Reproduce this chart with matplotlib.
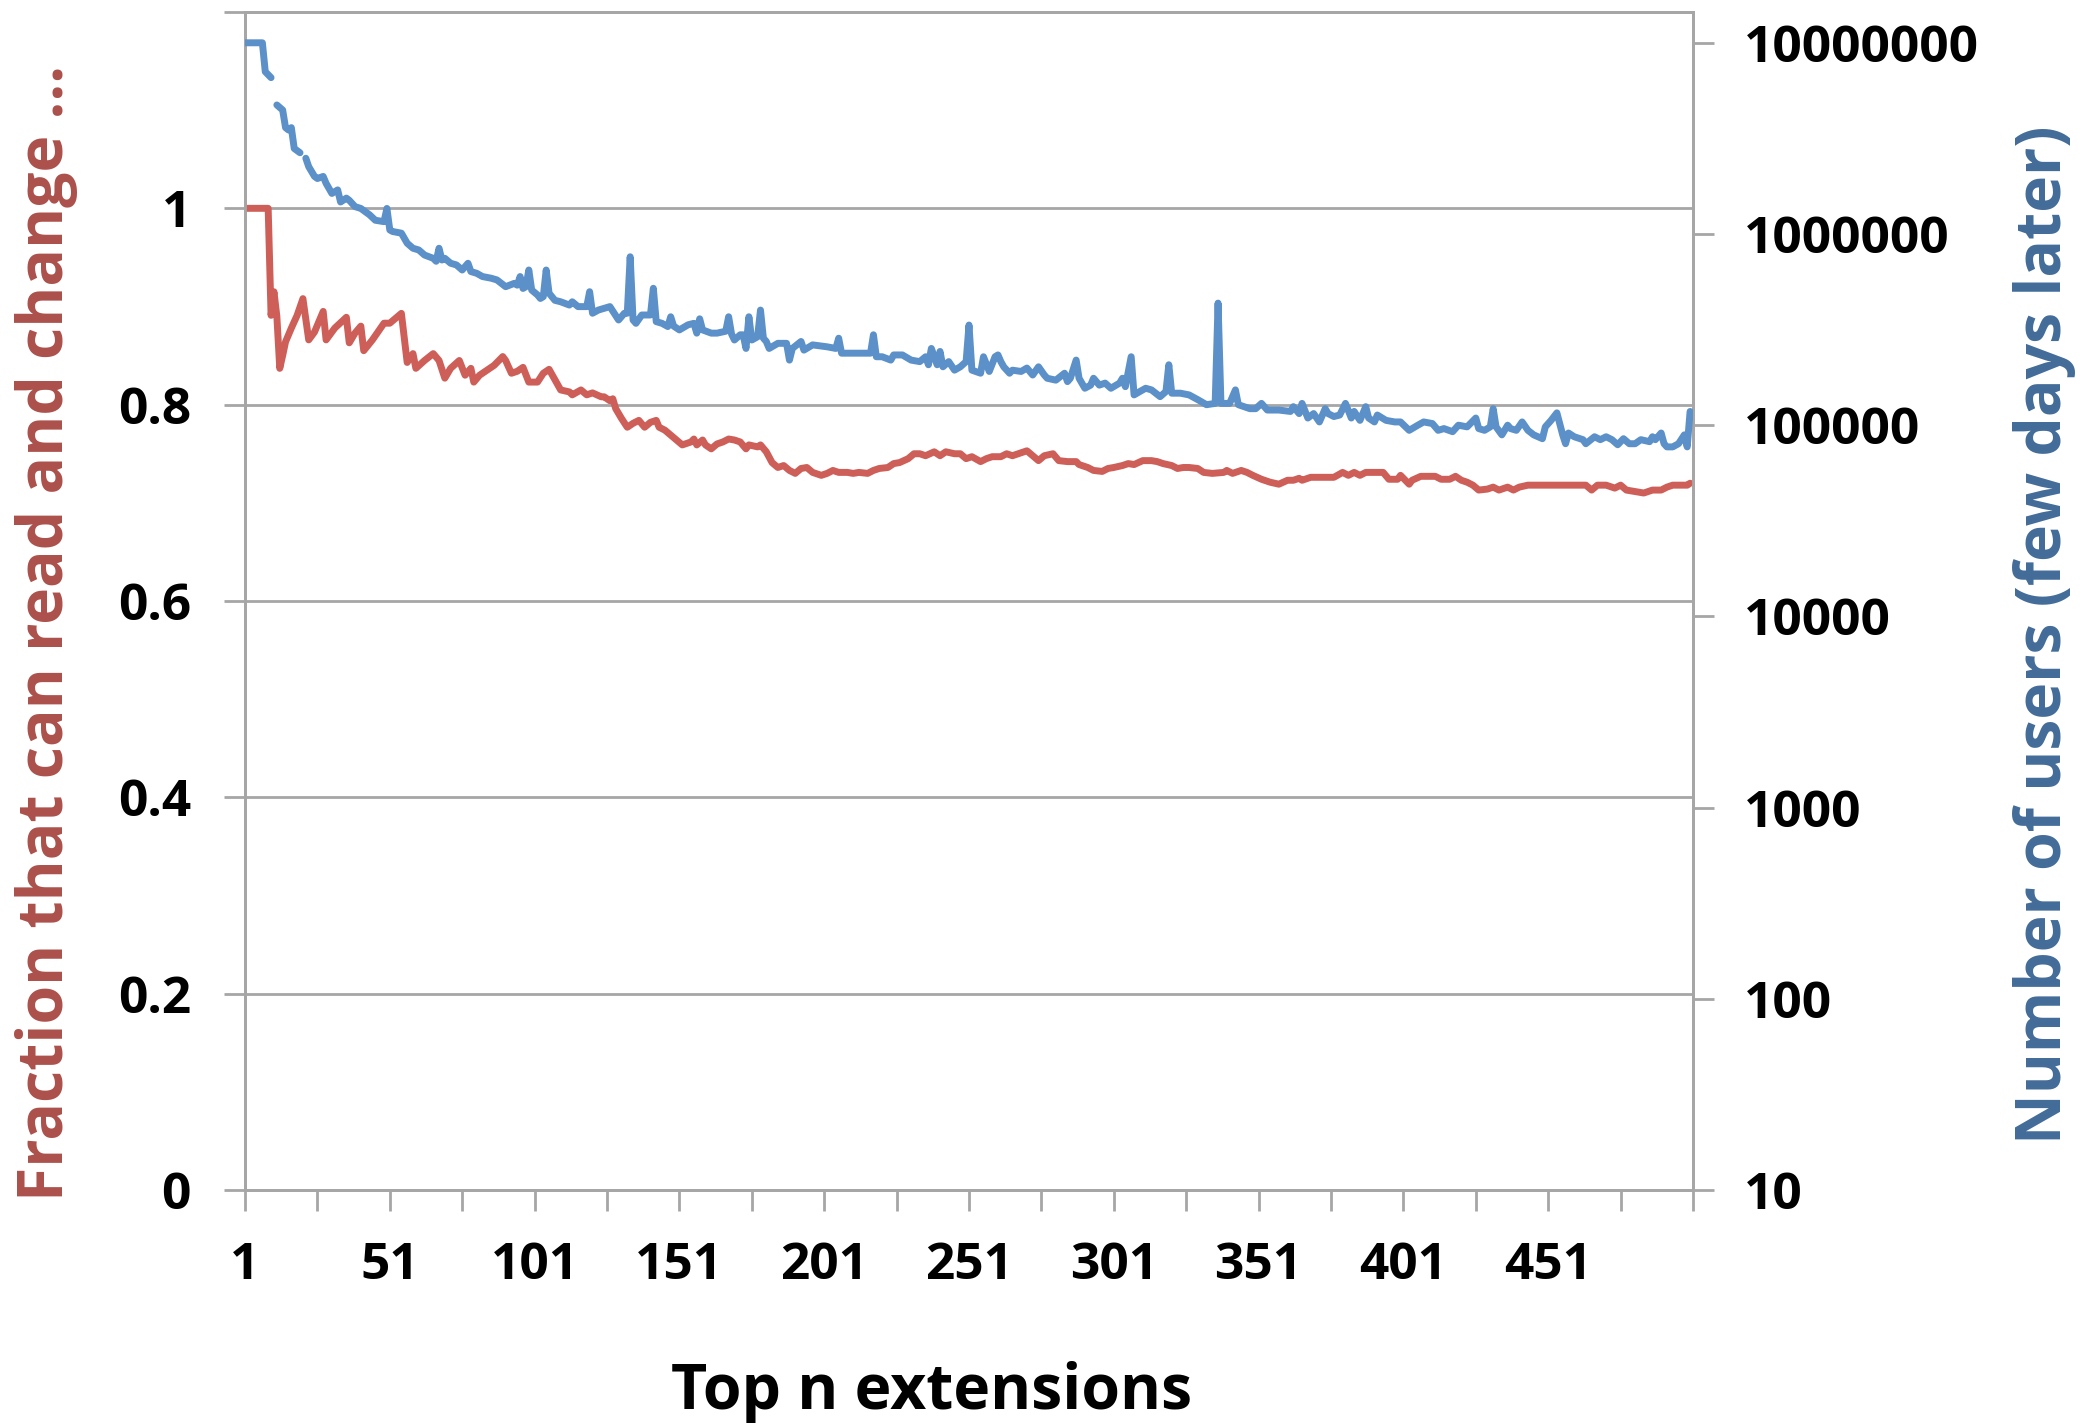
import numpy as np
import matplotlib
matplotlib.use("Agg")
import matplotlib.pyplot as plt
from matplotlib.ticker import FixedLocator, NullFormatter

plt.rcParams['font.family'] = ['Open Sans', 'DejaVu Sans']
plt.rcParams['font.weight'] = 'bold'

# ---------------- data ----------------
red_rank = [1, 9, 10, 11, 12, 13, 14, 15, 17, 19, 21, 23, 25, 28, 29, 32, 36, 37, 39, 41, 42, 45, 49, 51, 55,
            57, 59, 60, 63, 66, 68, 70, 72, 75, 77, 79, 80, 82, 87, 90, 91, 93, 95, 97, 99, 102, 104, 106, 110,
            113, 114, 117, 119, 121, 124, 125, 127, 128, 129, 131, 133, 135, 137, 139, 141, 143, 144, 146, 148,
            150, 152, 155, 156, 157, 159, 160, 162, 164, 166, 168, 170, 172, 174, 175, 178, 179, 181, 183, 185,
            187, 189, 191, 193, 195, 197, 200, 202, 204, 206, 209, 211, 213, 216, 218, 220, 223, 225, 227, 230,
            232, 234, 236, 239, 241, 243, 246, 248, 250, 252, 255, 257, 259, 262, 264, 266, 269, 271, 273, 275,
            277, 280, 282, 285, 288, 289, 292, 294, 297, 299, 301, 304, 306, 308, 311, 314, 316, 318, 321, 323,
            325, 327, 330, 332, 335, 339, 340, 342, 345, 347, 349, 352, 355, 358, 361, 363, 365, 366, 369, 372,
            377, 380, 382, 384, 386, 388, 394, 396, 399, 400, 403, 404, 407, 412, 414, 417, 419, 421, 423, 425,
            427, 430, 432, 434, 437, 439, 441, 444, 464, 466, 468, 471, 474, 476, 478, 482, 484, 487, 490, 492,
            494, 499, 500]
red_frac = [1.0, 1.0, 0.891, 0.915, 0.89, 0.837, 0.85, 0.864, 0.878, 0.891, 0.908, 0.866, 0.874, 0.895, 0.866,
            0.878, 0.889, 0.863, 0.873, 0.88, 0.855, 0.866, 0.883, 0.883, 0.893,
            0.843, 0.852, 0.837, 0.845, 0.852, 0.845, 0.827, 0.837, 0.845, 0.83, 0.837, 0.823, 0.83, 0.84, 0.849,
            0.845, 0.832, 0.834, 0.838, 0.823, 0.823, 0.832, 0.836, 0.815,
            0.813, 0.81, 0.815, 0.81, 0.812, 0.808, 0.808, 0.804, 0.806, 0.796, 0.786, 0.777, 0.781, 0.784, 0.777,
            0.782, 0.784, 0.777, 0.774, 0.769,
            0.764, 0.759, 0.762, 0.765, 0.759, 0.764, 0.759, 0.755, 0.76, 0.762, 0.765, 0.764, 0.762, 0.755, 0.759,
            0.757, 0.759, 0.752, 0.741, 0.736,
            0.738, 0.733, 0.73, 0.735, 0.736, 0.731, 0.728, 0.73, 0.733, 0.731, 0.731, 0.73, 0.731, 0.73, 0.733,
            0.735, 0.736, 0.74, 0.741, 0.745,
            0.75, 0.75, 0.748, 0.752, 0.748, 0.752, 0.75, 0.75, 0.745, 0.747, 0.742, 0.745, 0.747, 0.747, 0.75,
            0.748, 0.751, 0.753, 0.748, 0.743,
            0.748, 0.75, 0.743, 0.742, 0.742, 0.739, 0.736, 0.733, 0.732, 0.735, 0.736, 0.738, 0.74, 0.739, 0.743,
            0.743, 0.742, 0.74, 0.738, 0.735,
            0.736, 0.736, 0.735, 0.731, 0.73, 0.731, 0.733, 0.73, 0.733, 0.731, 0.728, 0.724, 0.721, 0.719, 0.723,
            0.723, 0.725, 0.723, 0.726, 0.726,
            0.726, 0.731, 0.728, 0.731, 0.728, 0.731, 0.731, 0.724, 0.724, 0.728, 0.719, 0.723, 0.727, 0.727, 0.724,
            0.724, 0.727, 0.723, 0.721, 0.718,
            0.713, 0.714, 0.716, 0.713, 0.716, 0.713, 0.716, 0.718, 0.718, 0.713, 0.718, 0.718, 0.715, 0.718, 0.713,
            0.711, 0.71, 0.713, 0.713, 0.716,
            0.718, 0.718, 0.72]

blue_rank = [1, 7, 8, 10, 11, 12, 14, 15, 16, 17, 18, 20, 21, 22, 23, 25, 26, 28, 29, 31, 33, 34, 36, 37, 39,
             41, 44, 46, 49, 50, 51, 52, 55, 57, 59, 61, 63, 66, 67, 68, 69, 70, 72, 74, 76, 78, 79, 81, 83, 86,
             88, 91, 94, 95, 96, 97, 98, 99, 100, 102, 103, 104, 105, 106, 108, 110, 113, 114, 116, 119, 120, 121,
             123, 127, 130, 132, 133, 134, 135, 136, 138, 141, 142, 143, 145, 147, 148, 149, 151, 154, 156, 157,
             158, 159, 162, 164, 167, 168, 169, 170, 172, 173, 174, 175, 176, 178, 179, 180, 181, 182, 185, 188,
             189, 190, 193, 194, 197, 202, 205, 206, 207, 211, 217, 218, 219, 221, 224, 225, 228, 231, 234, 236,
             237, 238, 240, 241, 242, 244, 246, 248, 250, 251, 252, 255, 256, 258, 260, 261, 262, 263, 265, 266,
             269, 271, 273, 275, 277, 278, 281, 284, 285, 286, 288, 289, 291, 293, 294, 296, 298, 300, 303, 304,
             305, 307, 308, 310, 312, 314, 317, 319, 320, 321, 324, 327, 330, 333, 336, 337, 338, 341, 343, 344,
             346, 348, 350, 352, 354, 358, 362, 363, 365, 366, 368, 370, 372, 374, 375, 377, 379, 381, 383, 384,
             386, 388, 389, 391, 392, 395, 398, 400, 403, 406, 408, 411, 413, 415, 418, 420, 423, 426, 427, 429,
             431, 432, 433, 435, 437, 438, 440, 442, 444, 446, 449, 450, 452, 454, 456, 457, 458, 460, 463, 464,
             467, 469, 471, 473, 475, 477, 479, 481, 483, 486, 487, 488, 490, 491, 492, 494, 496, 498, 499, 500]
blue_users = [1.0e7, 1.0e7, 7.06e6, 6.57e6, np.nan, 4.73e6, 4.45e6, 3.6e6, 3.5e6, 3.6e6, 2.8e6, 2.66e6, np.nan,
              2.49e6, 2.25e6, 2.0e6, 1.95e6, 2.0e6, 1.84e6, 1.63e6, 1.7e6, 1.47e6, 1.54e6, 1.5e6, 1.39e6,
              1.36e6, 1.26e6, 1.18e6, 1.16e6, 1.36e6, 1.05e6, 1.03e6, 1.01e6, 8.95e5, 8.42e5, 8.25e5, 7.76e5,
              7.46e5, 7.2e5, 8.42e5, 7.31e5, 7.46e5, 7.03e5, 6.89e5, 6.48e5, 7.03e5, 6.36e5, 6.23e5, 5.99e5, 5.87e5,
              5.75e5, 5.3e5, 5.52e5, 5.4e5, 5.99e5, 5.19e5, 5.3e5, 6.48e5, 5.09e5, 4.8e5, 4.6e5, 4.7e5, 6.48e5,
              4.9e5, 4.5e5, 4.42e5, 4.25e5, 4.42e5, 4.17e5, 4.17e5, 4.99e5, 3.85e5,
              4.0e5, 4.17e5, 3.55e5, 3.85e5, 3.85e5, 7.6e5, 3.55e5, 3.41e5, 3.77e5, 3.77e5, 5.2e5, 3.48e5, 3.41e5,
              3.28e5, 3.69e5, 3.3e5, 3.15e5, 3.35e5, 3.41e5, 3.03e5,
              3.6e5, 3.15e5, 3.03e5, 3.03e5, 3.1e5, 3.69e5, 3.0e5, 2.79e5, 2.97e5, 2.97e5, 2.52e5, 3.69e5, 2.79e5,
              2.9e5, 4.0e5, 2.85e5, 2.74e5, 2.52e5, 2.68e5, 2.68e5,
              2.19e5, 2.52e5, 2.74e5, 2.47e5, 2.63e5, 2.57e5, 2.52e5, 2.85e5, 2.38e5, 2.38e5, 2.38e5, 2.97e5, 2.28e5,
              2.28e5, 2.19e5, 2.33e5, 2.33e5, 2.19e5, 2.15e5, 2.28e5,
              2.07e5, 2.52e5, 2.07e5, 2.43e5, 2.02e5, 2.15e5, 1.94e5, 2.02e5, 2.15e5, 3.34e5, 1.94e5, 1.87e5, 2.28e5,
              1.91e5, 2.28e5, 2.33e5, 2.15e5, 2.02e5, 1.87e5, 1.94e5,
              1.91e5, 1.99e5, 1.83e5, 2.02e5, 1.83e5, 1.76e5, 1.72e5, 1.87e5, 1.69e5, 1.76e5, 2.19e5, 1.76e5, 1.56e5,
              1.62e5, 1.76e5, 1.62e5, 1.66e5, 1.56e5, 1.66e5, 1.76e5,
              1.59e5, 2.28e5, 1.44e5, 1.5e5, 1.56e5, 1.53e5, 1.41e5, 1.5e5, 2.07e5, 1.47e5, 1.47e5, 1.44e5, 1.36e5,
              1.28e5, 1.3e5, 4.35e5, 1.3e5, 1.3e5, 1.53e5, 1.28e5,
              1.25e5, 1.22e5, 1.22e5, 1.3e5, 1.2e5, 1.2e5, 1.18e5, 1.25e5, 1.15e5, 1.3e5, 1.09e5, 1.15e5, 1.04e5,
              1.22e5, 1.15e5, 1.11e5, 1.13e5, 1.30e5, 1.09e5, 1.18e5,
              1.06e5, 1.25e5, 1.09e5, 1.04e5, 1.13e5, 1.06e5, 1.04e5, 1.04e5, 9.4e4, 1.0e5, 1.04e5, 1.02e5, 9.4e4,
              9.6e4, 9.25e4, 1.0e5, 9.8e4, 1.09e5, 9.6e4, 9.4e4,
              9.8e4, 1.22e5, 9.8e4, 8.9e4, 1.0e5, 9.6e4, 9.4e4, 1.04e5, 9.4e4, 8.9e4, 8.5e4, 9.8e4, 1.06e5, 1.16e5,
              8.9e4, 8.0e4, 9.1e4, 8.7e4, 8.4e4, 8.0e4,
              8.7e4, 8.4e4, 8.7e4, 8.4e4, 7.9e4, 8.5e4, 8.0e4, 8.0e4, 8.4e4, 8.2e4, 8.7e4, 8.4e4, 9.1e4, 8.0e4,
              7.7e4, 7.7e4, 8.0e4, 8.9e4, 7.7e4, 1.18e5]

left_ticks = [0, 0.2, 0.4, 0.6, 0.8, 1.0]
left_ticklabels = ['0', '0.2', '0.4', '0.6', '0.8', '1']
right_ticks = [10, 100, 1000, 10000, 100000, 1000000, 10000000]
right_ticklabels = ['10', '100', '1000', '10000', '100000', '1000000', '10000000']
x_ticklabels = ['1', '51', '101', '151', '201', '251', '301', '351', '401', '451']

# ---------------- styling ----------------
RED = '#CD5F58'
BLUE = '#5B90C8'
RED_TITLE = '#AC504B'
BLUE_TITLE = '#426C98'
GRID = '#A6A6A6'

W, H = 2096, 1423
fig = plt.figure(figsize=(W / 100, H / 100), dpi=100)
L, R, B, T = 245, 1693, 1190, 12
ax = fig.add_axes([L / W, 1 - B / H, (R - L) / W, (B - T) / H])
ax2 = ax.twinx()

ax.set_xlim(1, 501)
ax.set_ylim(0, 1.2)
ax2.set_yscale('log')
ax2.set_ylim(10, 10 ** 7.161)

for g in left_ticks[1:] + [1.2]:
    ax.axhline(g, color=GRID, lw=2.0, zorder=0)

for a in (ax, ax2):
    for s in a.spines.values():
        s.set_color(GRID)
        s.set_linewidth(2.0)

ax.plot(red_rank, red_frac, color=RED, lw=5.0, solid_joinstyle='round', solid_capstyle='round', zorder=3)
ax2.plot(blue_rank, blue_users, color=BLUE, lw=5.0, solid_joinstyle='round', solid_capstyle='round', zorder=3)

xmajor = list(range(1, 502, 25))
ax.set_xticks(xmajor)
xl = []
k = 0
for v in xmajor:
    if (v - 1) % 50 == 0 and v <= 451:
        xl.append(x_ticklabels[k]); k += 1
    else:
        xl.append('')
ax.set_xticklabels(xl)

ax.set_yticks(left_ticks + [1.2])
ax.set_yticklabels(left_ticklabels + [''])

ax2.yaxis.set_major_locator(FixedLocator(right_ticks))
ax2.set_yticklabels(right_ticklabels)
ax2.yaxis.set_minor_locator(FixedLocator([]))
ax2.yaxis.set_minor_formatter(NullFormatter())

tick_kw = dict(length=15, width=2.0, color=GRID, labelcolor='black', labelsize=37, direction='out')
ax.tick_params(axis='x', pad=22, **tick_kw)
ax.tick_params(axis='y', pad=24, **tick_kw)
ax2.tick_params(axis='y', pad=22, **tick_kw)
for lab in ax.get_xticklabels() + ax.get_yticklabels() + ax2.get_yticklabels():
    lab.set_fontweight('bold')

fig.text(47 / W, 1 - 633 / H, 'Fraction that can read and change ...', rotation=90, ha='center', va='center',
         color=RED_TITLE, fontsize=45, fontweight='bold')
fig.text(2045 / W, 1 - 635 / H, 'Number of users (few days later)', rotation=90, ha='center', va='center',
         color=BLUE_TITLE, fontsize=45, fontweight='bold')
fig.text(932 / W, 1 - 1393 / H, 'Top n extensions', ha='center', va='center',
         color='black', fontsize=45, fontweight='bold')

fig.savefig('out.png', dpi=100)
